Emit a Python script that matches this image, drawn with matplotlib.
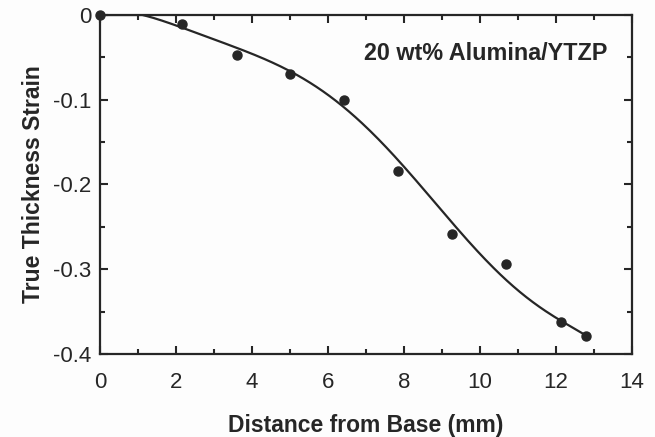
import numpy as np
import matplotlib.pyplot as plt
from matplotlib.ticker import MultipleLocator

# measured points
distance = [0.0, 2.15, 3.6, 5.0, 6.42, 7.84, 9.26, 10.68, 12.12, 12.8]
strain = [0.0, -0.011, -0.047, -0.070, -0.100, -0.184, -0.259, -0.294, -0.362, -0.379]

# fitted curve
fit_x = [0.0, 1.0, 1.97, 3.03, 3.55, 4.25, 5.0, 5.61, 6.32, 6.84, 7.37, 7.89,
         8.42, 8.95, 9.39, 9.82, 10.7, 11.4, 12.1, 12.8]
fit_y = [0.0, -0.003, -0.0087, -0.0256, -0.0386, -0.053, -0.070, -0.0846, -0.104, -0.120,
         -0.1437, -0.175, -0.2066, -0.229, -0.252, -0.2735, -0.311, -0.338, -0.362, -0.378]

label = '20 wt% Alumina/YTZP'

ink = '#262626'
plt.rcParams['font.family'] = ['Liberation Sans', 'DejaVu Sans']

fig = plt.figure(figsize=(6.55, 4.37), dpi=100)
fig.patch.set_facecolor('#fdfdfd')
ax = fig.add_axes([0.1527, 0.19, 0.8123, 0.7757])
ax.set_facecolor('#fdfdfd')

# smooth the traced curve
p = np.polynomial.Polynomial.fit(fit_x, fit_y, 6)
xs = np.linspace(fit_x[0], fit_x[-1], 300)
ax.plot(xs, np.minimum(p(xs), 0), color=ink, linewidth=1.6)
ax.plot(distance, strain, 'o', color=ink, markersize=6.5, clip_on=False, zorder=5)

ax.set_xlim(0, 14)
ax.set_ylim(-0.4, 0)
ax.xaxis.set_major_locator(MultipleLocator(2))
ax.xaxis.set_minor_locator(MultipleLocator(1))
ax.yaxis.set_minor_locator(MultipleLocator(0.05))
ax.set_yticks([0, -0.1, -0.2, -0.3, -0.4])
ax.set_yticklabels(['0', '-0.1', '-0.2', '-0.3', '-0.4'])
ax.tick_params(which='both', direction='in', top=True, right=True, width=1.5, colors=ink, labelsize=16)
ax.tick_params(axis='x', pad=13)
ax.tick_params(axis='y', pad=6)
ax.tick_params(which='major', length=6)
ax.tick_params(which='minor', length=3.5)
for s in ax.spines.values():
    s.set_linewidth(1.6)
    s.set_color(ink)

ax.set_xlabel('Distance from Base (mm)', fontsize=16.5, fontweight='bold', color=ink, labelpad=15)
ax.set_ylabel('True Thickness Strain', fontsize=16.5, fontweight='bold', color=ink, labelpad=6)
ax.text(13.35, -0.045, label, ha='right', va='center', fontsize=16.8, fontweight='bold', color=ink)

fig.savefig('out.png', dpi=100, facecolor=fig.get_facecolor())
